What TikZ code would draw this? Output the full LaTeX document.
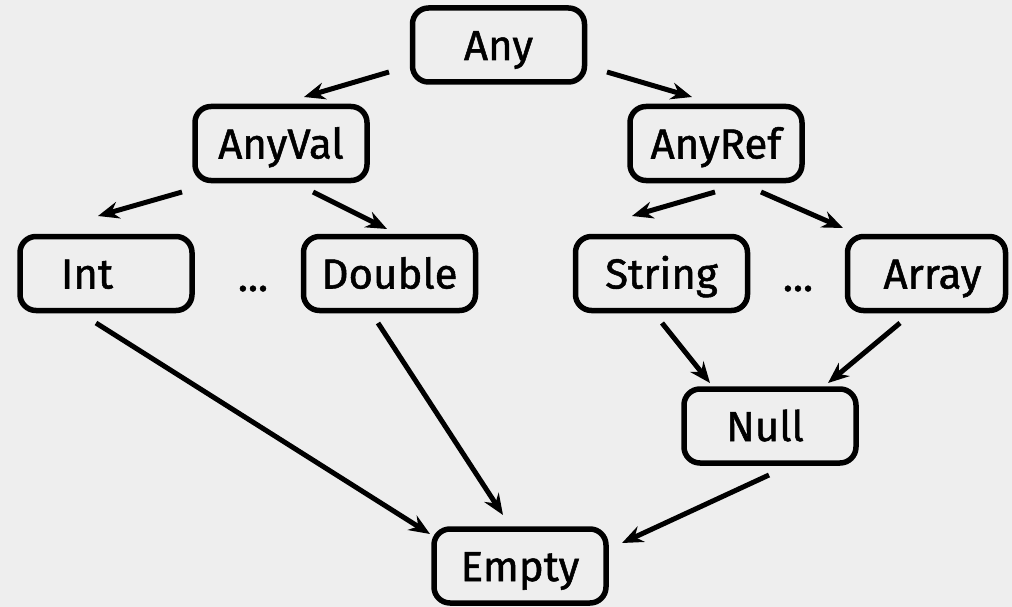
\documentclass[tikz,border=0pt]{standalone}
\usepackage{fontspec}
\setmainfont{Fira Sans}[FakeBold=1.2]
\usetikzlibrary{arrows.meta,calc}
\definecolor{bg}{HTML}{EEEEEE}
\tikzset{
  box/.style={draw=black, line width=5.5pt, rounded corners=16pt, minimum width=172pt, minimum height=74pt,
    inner sep=0pt, text height=30pt, text depth=0pt, font=\fontsize{42}{50}\selectfont},
  dots/.style={inner sep=0pt, text height=30pt, text depth=0pt, font=\fontsize{42}{50}\selectfont},
  arr/.style={line width=5pt, -{Stealth[length=21pt,width=17pt,inset=7pt]}}
}
\begin{document}
\begin{tikzpicture}[x=1pt,y=-1pt]
\useasboundingbox (0,0) rectangle (1012,607);
\fill[bg] (0,0) rectangle (1012,607);
\node[box] (any) at (498.5,45) {Any};
\node[box] (anyval) at (281,143.5) {AnyVal};
\node[box] (anyref) at (716,143.5) {AnyRef};
\node[box] (int) at (106,273.5) {Int\hspace*{38pt}};
\node[box] (double) at (389.5,273.5) {Double};
\node[dots] (dots1) at (253,276) {...};
\node[box] (string) at (661.5,273.5) {String};
\node[dots] (dots2) at (798,276) {...};
\node[box, minimum width=158pt] (array) at (926.5,273.5) {\hspace*{12pt}Array};
\node[box] (null) at (770,426) {Null\hspace*{10pt}};
\node[box] (empty) at (520,566) {Empty};

\draw[arr] ($(any.center)+(-109.5,27)$) -- ($(anyval.center)+(23,-46.5)$);
\draw[arr] ($(any.center)+(108.5,27)$) -- ($(anyref.center)+(-24,-46.5)$);
\draw[arr] ($(anyval.center)+(-99,48.5)$) -- ($(int.center)+(-8,-57.5)$);
\draw[arr] ($(anyval.center)+(32,48.5)$) -- ($(double.center)+(-2.5,-44.5)$);
\draw[arr] ($(anyref.center)+(-1,48.5)$) -- ($(string.center)+(-29.5,-57.5)$);
\draw[arr] ($(anyref.center)+(45,48.5)$) -- ($(array.center)+(-83.5,-45.5)$);
\draw[arr] ($(int.center)+(-10,49.5)$) -- ($(empty.center)+(-90,-32)$);
\draw[arr] ($(double.center)+(-11.5,49.5)$) -- ($(empty.center)+(-17,-51)$);
\draw[arr] ($(string.center)+(0.5,49.5)$) -- ($(null.center)+(-60,-43)$);
\draw[arr] ($(array.center)+(-26.5,49.5)$) -- ($(null.center)+(58,-43)$);
\draw[arr] ($(null.center)+(-1,49)$) -- ($(empty.center)+(102,-23)$);
\end{tikzpicture}
\end{document}
